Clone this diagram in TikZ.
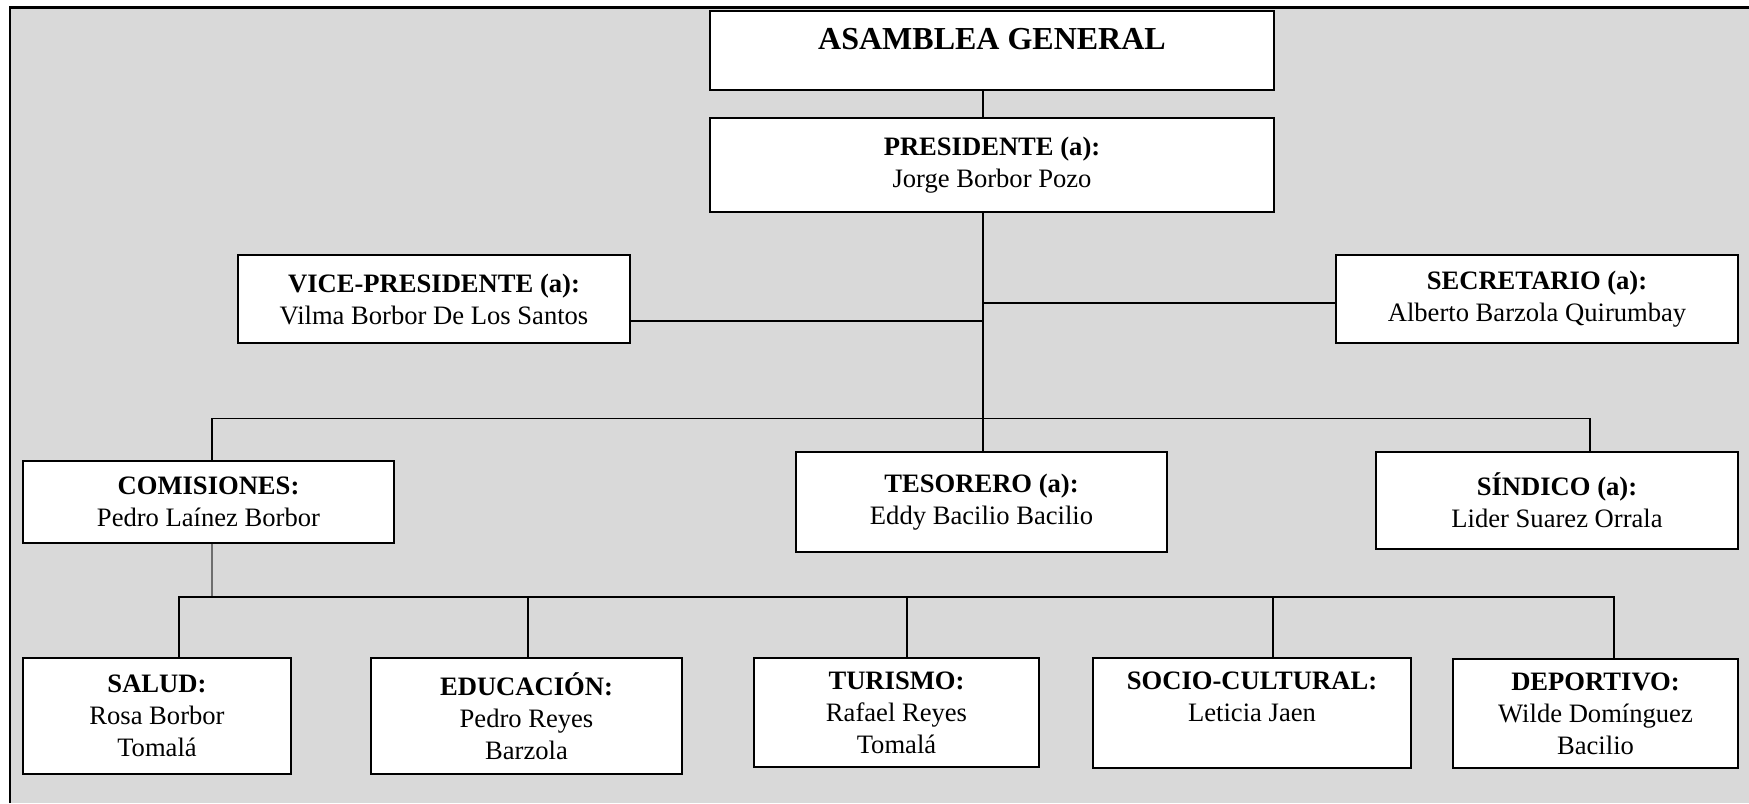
\documentclass[tikz,border=0pt]{standalone}
\usepackage{fontspec}
\setmainfont{Liberation Serif}
\definecolor{fondo}{RGB}{217,217,217}
\definecolor{gristrazo}{RGB}{110,110,110}

\begin{document}
\begin{tikzpicture}[x=0.5pt,y=-0.5pt,
   cargo/.style={draw,fill=white,line width=0.75pt,inner sep=0pt,align=center,
      font=\fontsize{13.3}{16}\selectfont},
   linea/.style={line width=0.7pt},
   lineagris/.style={line width=0.55pt,color=gristrazo}]

   \useasboundingbox (0,0) rectangle (1749,803);
   \fill[fondo] (10,7.5) rectangle (1749,803);
   \draw[line width=1.4pt] (10,803) -- (10,7.5) -- (1749,7.5);

   % directiva
   \node[cargo,minimum width=282pt,minimum height=39.5pt,font=\fontsize{16}{18}\selectfont\bfseries,text depth=12pt] (asamblea) at (992,50.5) {ASAMBLEA GENERAL};
   \node[cargo,minimum width=282pt,minimum height=47pt] (presidente) at (992,165) {\textbf{PRESIDENTE (a):}\\Jorge Borbor Pozo};
   \node[cargo,minimum width=196pt,minimum height=44pt] (vice) at (434,299) {\textbf{VICE-PRESIDENTE (a):}\\Vilma Borbor De Los Santos};
   \node[cargo,minimum width=201pt,minimum height=44pt] (secretario) at (1537,299) {\textbf{SECRETARIO (a):}\\Alberto Barzola Quirumbay};
   \node[cargo,minimum width=185.5pt,minimum height=41pt] (comisiones) at (208.5,502) {\textbf{COMISIONES:}\\Pedro Laínez Borbor};
   \node[cargo,minimum width=185.5pt,minimum height=50pt] (tesorero) at (981.5,502) {\textbf{TESORERO (a):}\\Eddy Bacilio Bacilio};
   \node[cargo,minimum width=181pt,minimum height=48.5pt] (sindico) at (1557,500.5) {\textbf{SÍNDICO (a):}\\Lider Suarez Orrala};

   % comisiones
   \node[cargo,minimum width=134pt,minimum height=58pt] (salud) at (157,716) {\textbf{SALUD:}\\Rosa Borbor\\Tomalá};
   \node[cargo,minimum width=155.5pt,minimum height=58pt] (educacion) at (526.5,716) {\textbf{EDUCACIÓN:}\\Pedro Reyes\\Barzola};
   \node[cargo,minimum width=142.5pt,minimum height=54.5pt] (turismo) at (896.5,712.5) {\textbf{TURISMO:}\\Rafael Reyes\\Tomalá};
   \node[cargo,minimum width=159pt,minimum height=55pt] (socio) at (1252,713) {\textbf{SOCIO-CULTURAL:}\\Leticia Jaen\\\mbox{}};
   \node[cargo,minimum width=142.5pt,minimum height=54.5pt] (deportivo) at (1595.5,713.5) {\textbf{DEPORTIVO:}\\Wilde Domínguez\\Bacilio};

   \coordinate (eje) at (983,0);
   \coordinate (barra1) at (212,418.5);
   \coordinate (barra2) at (1590,418.5);
   \coordinate (barra3) at (179,597);
   \coordinate (barra4) at (1614,597);

   \draw[linea] (asamblea.south -| eje) -- (presidente.north -| eje);
   \draw[linea] (presidente.south -| eje) -- (tesorero.north -| eje);
   \draw[linea] ([yshift=-11pt]vice.east) -- ([yshift=-11pt]vice.east -| eje);
   \draw[linea] ([yshift=-2pt]secretario.west) -- ([yshift=-2pt]secretario.west -| eje);
   \draw[linea] (barra1 |- comisiones.north) -- (barra1) -- (barra2) -- (barra2 |- sindico.north);
   \draw[lineagris] (barra1 |- comisiones.south) -- (barra1 |- barra3);
   \draw[linea] (barra3 |- salud.north) -- (barra3) -- (barra4) -- (barra4 |- deportivo.north);
   \foreach \x/\caja in {528/educacion,907/turismo,1273/socio}
      \draw[linea] (\x,598) -- (\x,598 |- \caja.north);

\end{tikzpicture}
\end{document}
